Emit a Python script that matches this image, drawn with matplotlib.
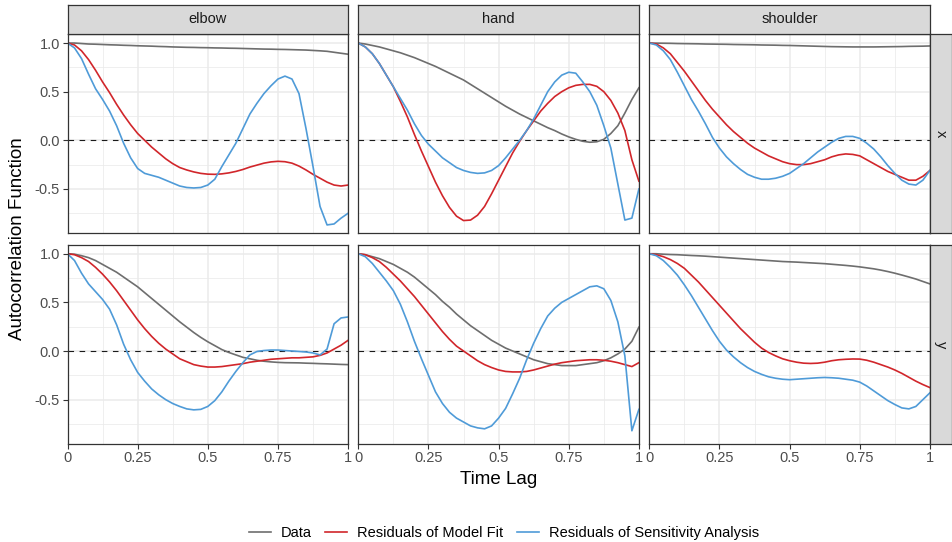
import numpy as np
import matplotlib
matplotlib.use("Agg")
import matplotlib.pyplot as plt
from matplotlib.lines import Line2D

plt.rcParams['font.family'] = ['Liberation Sans', 'DejaVu Sans']
plt.rcParams['axes.unicode_minus'] = False

# time lag grid (fraction of the trial)
lag = np.linspace(0, 1, 41)

joints = ["elbow", "hand", "shoulder"]
axes_names = ["x", "y"]
series_names = ["Data", "Residuals of Model Fit", "Residuals of Sensitivity Analysis"]
series_colors = ["#6E6E6E", "#D1262B", "#4F9BD8"]

# ---- x direction ----
data_elbow_x = [1.0, 1.0, 0.995, 0.99, 0.988, 0.985, 0.982, 0.98, 0.977, 0.975, 0.972,
                0.97, 0.968, 0.965, 0.963, 0.96, 0.958, 0.956, 0.955, 0.953, 0.952,
                0.95, 0.949, 0.947, 0.946, 0.944, 0.942, 0.94, 0.938, 0.937, 0.935,
                0.934, 0.932, 0.93, 0.928, 0.924, 0.92, 0.915, 0.905, 0.895, 0.885]
fit_elbow_x = [1.0, 0.98, 0.92, 0.83, 0.72, 0.6, 0.49, 0.37, 0.26, 0.16, 0.07,
               0.0, -0.07, -0.13, -0.19, -0.24, -0.28, -0.305, -0.325, -0.34, -0.348,
               -0.35, -0.345, -0.335, -0.32, -0.3, -0.275, -0.255, -0.235, -0.222, -0.216,
               -0.22, -0.235, -0.265, -0.305, -0.35, -0.39, -0.43, -0.46, -0.47, -0.46]
sens_elbow_x = [1.0, 0.95, 0.84, 0.68, 0.53, 0.42, 0.3, 0.15, -0.03, -0.18, -0.29,
                -0.34, -0.36, -0.38, -0.41, -0.44, -0.47, -0.485, -0.49, -0.485, -0.46,
                -0.4, -0.27, -0.15, -0.03, 0.12, 0.27, 0.38, 0.48, 0.56, 0.63,
                0.66, 0.63, 0.48, 0.12, -0.27, -0.68, -0.87, -0.86, -0.8, -0.75]

data_hand_x = [1.0, 0.99, 0.975, 0.96, 0.94, 0.92, 0.9, 0.875, 0.85, 0.82, 0.79,
               0.76, 0.725, 0.69, 0.655, 0.62, 0.575, 0.53, 0.485, 0.44, 0.395,
               0.35, 0.31, 0.27, 0.235, 0.2, 0.165, 0.13, 0.1, 0.065, 0.035,
               0.01, -0.01, -0.02, -0.015, 0.01, 0.07, 0.15, 0.28, 0.42, 0.54]
fit_hand_x = [1.0, 0.96, 0.89, 0.79, 0.67, 0.55, 0.4, 0.24, 0.06, -0.11, -0.27,
              -0.43, -0.57, -0.69, -0.78, -0.825, -0.82, -0.77, -0.68, -0.55, -0.41,
              -0.27, -0.13, -0.01, 0.1, 0.2, 0.3, 0.38, 0.45, 0.5, 0.54,
              0.565, 0.575, 0.575, 0.555, 0.5, 0.41, 0.28, 0.1, -0.2, -0.42]
sens_hand_x = [1.0, 0.96, 0.89, 0.79, 0.67, 0.55, 0.43, 0.31, 0.17, 0.05, -0.04,
               -0.11, -0.18, -0.23, -0.28, -0.31, -0.33, -0.34, -0.335, -0.31, -0.26,
               -0.18, -0.09, 0.0, 0.1, 0.22, 0.36, 0.5, 0.6, 0.67, 0.7,
               0.69, 0.6, 0.5, 0.36, 0.15, -0.08, -0.45, -0.82, -0.8, -0.5]

data_shoulder_x = [1.0, 0.999, 0.998, 0.997, 0.995, 0.994, 0.993, 0.992, 0.99, 0.989, 0.988,
                   0.987, 0.985, 0.984, 0.983, 0.982, 0.98, 0.979, 0.978, 0.976, 0.975,
                   0.973, 0.971, 0.969, 0.967, 0.965, 0.963, 0.962, 0.961, 0.96, 0.96,
                   0.96, 0.96, 0.961, 0.962, 0.963, 0.964, 0.966, 0.967, 0.968, 0.97]
fit_shoulder_x = [1.0, 0.99, 0.95, 0.89, 0.8, 0.71, 0.61, 0.51, 0.41, 0.32, 0.24,
                  0.16, 0.09, 0.03, -0.03, -0.08, -0.12, -0.16, -0.19, -0.22, -0.24,
                  -0.25, -0.25, -0.24, -0.22, -0.2, -0.17, -0.15, -0.14, -0.145, -0.16,
                  -0.2, -0.24, -0.28, -0.32, -0.35, -0.38, -0.41, -0.41, -0.37, -0.31]
sens_shoulder_x = [1.0, 0.98, 0.92, 0.83, 0.7, 0.56, 0.42, 0.3, 0.17, 0.03, -0.08,
                   -0.17, -0.24, -0.3, -0.35, -0.38, -0.4, -0.4, -0.39, -0.37, -0.34,
                   -0.29, -0.24, -0.18, -0.12, -0.07, -0.02, 0.02, 0.04, 0.04, 0.02,
                   -0.03, -0.09, -0.17, -0.26, -0.34, -0.41, -0.45, -0.46, -0.41, -0.31]

# ---- y direction ----
data_elbow_y = [1.0, 0.995, 0.98, 0.96, 0.93, 0.89, 0.85, 0.81, 0.76, 0.71, 0.66,
                0.6, 0.54, 0.48, 0.42, 0.36, 0.3, 0.245, 0.19, 0.14, 0.095,
                0.055, 0.015, -0.015, -0.04, -0.065, -0.08, -0.095, -0.105, -0.112, -0.117,
                -0.12, -0.121, -0.122, -0.125, -0.127, -0.13, -0.132, -0.135, -0.138, -0.14]
fit_elbow_y = [1.0, 0.99, 0.96, 0.92, 0.86, 0.79, 0.71, 0.62, 0.52, 0.42, 0.32,
               0.23, 0.15, 0.08, 0.02, -0.03, -0.08, -0.11, -0.14, -0.155, -0.165,
               -0.165, -0.16, -0.15, -0.14, -0.13, -0.115, -0.105, -0.095, -0.085, -0.08,
               -0.075, -0.07, -0.07, -0.065, -0.06, -0.045, -0.02, 0.02, 0.06, 0.11]
sens_elbow_y = [1.0, 0.93, 0.8, 0.69, 0.61, 0.53, 0.43, 0.27, 0.07, -0.09, -0.22,
                -0.31, -0.39, -0.45, -0.5, -0.54, -0.57, -0.595, -0.605, -0.6, -0.57,
                -0.51, -0.42, -0.31, -0.21, -0.12, -0.04, -0.005, 0.005, 0.01, 0.01,
                0.005, 0.0, -0.005, -0.01, -0.02, -0.04, 0.02, 0.28, 0.34, 0.35]

data_hand_y = [1.0, 0.99, 0.97, 0.95, 0.92, 0.89, 0.85, 0.81, 0.76, 0.7, 0.64,
               0.58, 0.51, 0.45, 0.38, 0.32, 0.26, 0.21, 0.16, 0.11, 0.07,
               0.03, 0.0, -0.03, -0.06, -0.09, -0.11, -0.13, -0.14, -0.15, -0.15,
               -0.15, -0.14, -0.13, -0.12, -0.1, -0.07, -0.03, 0.02, 0.1, 0.245]
fit_hand_y = [1.0, 0.99, 0.96, 0.92, 0.86, 0.79, 0.72, 0.64, 0.56, 0.47, 0.38,
              0.29, 0.2, 0.12, 0.05, 0.0, -0.05, -0.1, -0.14, -0.17, -0.195,
              -0.21, -0.215, -0.215, -0.21, -0.195, -0.175, -0.155, -0.135, -0.12, -0.11,
              -0.1, -0.095, -0.09, -0.09, -0.095, -0.105, -0.12, -0.14, -0.16, -0.12]
sens_hand_y = [1.0, 0.97, 0.9, 0.81, 0.72, 0.62, 0.48, 0.3, 0.1, -0.08, -0.25,
               -0.42, -0.54, -0.63, -0.69, -0.73, -0.77, -0.79, -0.8, -0.77, -0.69,
               -0.59, -0.44, -0.28, -0.09, 0.08, 0.23, 0.36, 0.44, 0.5, 0.54,
               0.58, 0.62, 0.66, 0.67, 0.64, 0.52, 0.3, -0.05, -0.82, -0.6]

data_shoulder_y = [1.0, 1.0, 0.995, 0.992, 0.99, 0.986, 0.982, 0.979, 0.975, 0.97, 0.965,
                   0.96, 0.955, 0.95, 0.945, 0.94, 0.935, 0.93, 0.925, 0.92, 0.917,
                   0.914, 0.91, 0.906, 0.902, 0.898, 0.892, 0.886, 0.88, 0.873, 0.865,
                   0.855, 0.845, 0.832, 0.817, 0.8, 0.781, 0.761, 0.74, 0.715, 0.69]
fit_shoulder_y = [1.0, 0.99, 0.97, 0.94, 0.9, 0.85, 0.78, 0.71, 0.63, 0.55, 0.47,
                  0.39, 0.31, 0.23, 0.16, 0.09, 0.03, -0.015, -0.05, -0.08, -0.1,
                  -0.115, -0.125, -0.128, -0.125, -0.115, -0.1, -0.09, -0.085, -0.082, -0.083,
                  -0.095, -0.115, -0.14, -0.165, -0.195, -0.23, -0.27, -0.31, -0.345, -0.376]
sens_shoulder_y = [1.0, 0.98, 0.93, 0.86, 0.78, 0.68, 0.57, 0.45, 0.33, 0.21, 0.1,
                   0.01, -0.06, -0.12, -0.17, -0.21, -0.24, -0.265, -0.28, -0.29, -0.295,
                   -0.29, -0.285, -0.28, -0.275, -0.272, -0.275, -0.28, -0.29, -0.3, -0.32,
                   -0.36, -0.41, -0.46, -0.51, -0.55, -0.585, -0.595, -0.57, -0.5, -0.43]

panels = {
    ("x", "elbow"): [data_elbow_x, fit_elbow_x, sens_elbow_x],
    ("x", "hand"): [data_hand_x, fit_hand_x, sens_hand_x],
    ("x", "shoulder"): [data_shoulder_x, fit_shoulder_x, sens_shoulder_x],
    ("y", "elbow"): [data_elbow_y, fit_elbow_y, sens_elbow_y],
    ("y", "hand"): [data_hand_y, fit_hand_y, sens_hand_y],
    ("y", "shoulder"): [data_shoulder_y, fit_shoulder_y, sens_shoulder_y],
}

W, H = 952, 542
fig = plt.figure(figsize=(W / 100, H / 100), dpi=100)


def box(x0, y0, w, h):
    # pixel box (top-left origin) -> figure fraction rect
    return [x0 / W, 1 - (y0 + h) / H, w / W, h / H]


col_left = [67.5, 358.3, 649.3]
col_w = 280.6
row_top = [34.0, 244.7]
row_h = 199.0
border = "#333333"

for r, a in enumerate(axes_names):
    for c, j in enumerate(joints):
        ax = fig.add_axes(box(col_left[c], row_top[r], col_w, row_h))
        ax.set_xlim(0, 1)
        ax.set_ylim(-0.953, 1.093)
        ax.set_xticks([0, 0.25, 0.5, 0.75, 1])
        ax.set_xticks([0.125, 0.375, 0.625, 0.875], minor=True)
        ax.set_yticks([-0.5, 0, 0.5, 1.0])
        ax.set_yticks([-0.75, -0.25, 0.25, 0.75], minor=True)
        ax.grid(which="major", color="#EBEBEB", lw=1.1)
        ax.grid(which="minor", color="#EBEBEB", lw=0.55)
        ax.set_axisbelow(True)
        for sp in ax.spines.values():
            sp.set_color(border)
            sp.set_linewidth(0.9)
        ax.tick_params(which="major", length=3.5, width=0.8, color=border,
                       labelsize=10.5, labelcolor="#4D4D4D", pad=2)
        ax.tick_params(which="minor", length=0)
        if c == 0:
            ax.set_yticklabels(["-0.5", "0.0", "0.5", "1.0"])
        else:
            ax.tick_params(axis="y", which="major", length=0, labelleft=False)
        if r == 1:
            ax.set_xticklabels(["0", "0.25", "0.5", "0.75", "1"])
        else:
            ax.tick_params(axis="x", which="major", length=0, labelbottom=False)

        ax.axhline(0, color="#1A1A1A", lw=0.8, ls=(0, (5, 5)), zorder=1.5)
        for vals, col in zip(panels[(a, j)], series_colors):
            ax.plot(lag, vals, color=col, lw=1.2, zorder=2)

        # column strips along the top
        if r == 0:
            sx = fig.add_axes(box(col_left[c], 4.7, col_w, row_top[0] - 4.7))
            sx.set_facecolor("#D9D9D9")
            sx.set_xticks([])
            sx.set_yticks([])
            for sp in sx.spines.values():
                sp.set_color(border)
                sp.set_linewidth(0.9)
            sx.text(0.5, 0.5, j, ha="center", va="center", fontsize=10.5,
                    color="#1A1A1A", transform=sx.transAxes)

    # row strip on the right
    sy = fig.add_axes(box(col_left[2] + col_w, row_top[r], 951.5 - col_left[2] - col_w, row_h))
    sy.set_facecolor("#D9D9D9")
    sy.set_xticks([])
    sy.set_yticks([])
    for sp in sy.spines.values():
        sp.set_color(border)
        sp.set_linewidth(0.9)
    sy.text(0.5, 0.5, a, ha="center", va="center", fontsize=10.5, rotation=-90,
            color="#1A1A1A", transform=sy.transAxes)

fig.text(18 / W, 1 - 239 / H, "Autocorrelation Function", rotation=90,
         ha="center", va="center", fontsize=13.5, color="black")
fig.text(498.5 / W, 1 - 479 / H, "Time Lag", ha="center", va="center",
         fontsize=13.5, color="black")

handles = [Line2D([0], [0], color=col, lw=1.2) for col in series_colors]
fig.legend(handles, series_names, loc="center", ncol=3,
           bbox_to_anchor=(504 / W, 1 - 533 / H), frameon=False,
           fontsize=10.5, handlelength=1.5, handletextpad=0.7, columnspacing=0.9)

fig.savefig("out.png", dpi=100)
